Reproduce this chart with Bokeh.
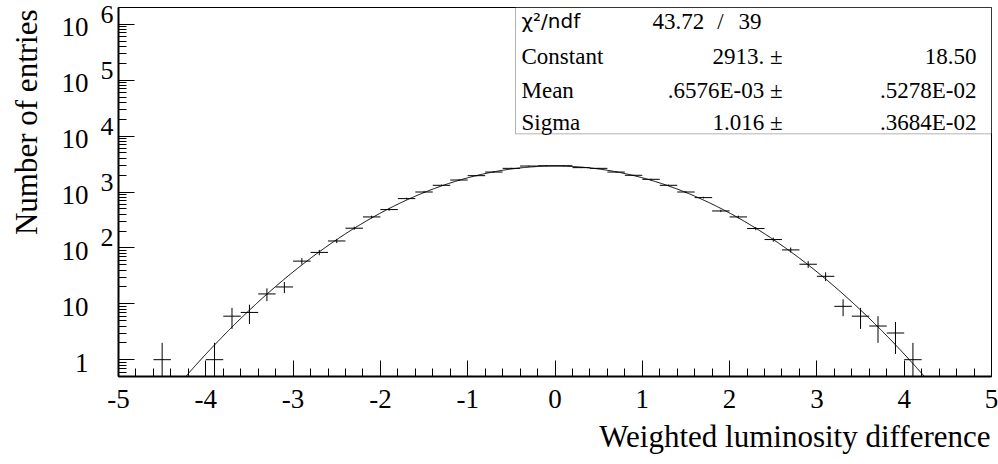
import math
import numpy as np
from bokeh.plotting import figure
from bokeh.models import (Range1d, FixedTicker, Label, ColumnDataSource, LogAxis,
                          BoxAnnotation, CustomJSTickFormatter, Title)
from bokeh.embed import file_html
from bokeh.resources import INLINE

# ---------------- data ----------------
BIN_WIDTH = 0.2
bin_centers = [-4.5, -3.9, -3.7, -3.5, -3.3, -3.1, -2.9, -2.7, -2.5, -2.3, -2.1,
               -1.9, -1.7, -1.5, -1.3, -1.1, -0.9, -0.7, -0.5, -0.3, -0.1,
               0.1, 0.3, 0.5, 0.7, 0.9, 1.1, 1.3, 1.5, 1.7, 1.9,
               2.1, 2.3, 2.5, 2.7, 2.9, 3.1, 3.3, 3.5, 3.7, 3.9, 4.1]
counts = [1, 1, 6, 7, 15, 20, 58, 83, 133, 225, 358,
          485, 762, 1000, 1318, 1638, 1960, 2275, 2650, 2912, 2950,
          2950, 2728, 2650, 2275, 1990, 1686, 1318, 1000, 794, 458,
          358, 222, 141, 92, 51, 31, 9, 6, 4, 3, 1]

fit_chi2 = 43.72
fit_ndf = 39
fit_constant, fit_constant_err = 2913.0, 18.50
fit_mean, fit_mean_err = 0.6576e-03, 0.5278e-02
fit_sigma, fit_sigma_err = 1.016, 0.3684e-02

stat_names = ["Constant", "Mean", "Sigma"]
stat_values = ["2913. \u00b1", ".6576E-03 \u00b1", "1.016 \u00b1"]
stat_errors = ["18.50", ".5278E-02", ".3684E-02"]

x_ticks = [-5, -4, -3, -2, -1, 0, 1, 2, 3, 4, 5]
x_tick_labels = ["-5", "-4", "-3", "-2", "-1", "0", "1", "2", "3", "4", "5"]
y_tick_values = [1, 10, 100, 1e3, 1e4, 1e5, 1e6]
y_tick_base = ["1", "10", "10", "10", "10", "10", "10"]
y_tick_exp = ["", "", "2", "3", "4", "5", "6"]

x_title = "Weighted luminosity difference"
y_title = "Number of entries"

# ---------------- geometry ----------------
W, H = 998, 464
FL, FR, FT, FB = 118, 991, 7, 378      # frame edges in picture pixels
XMIN, XMAX = -5.0, 5.0
YMIN, YMAX = 0.5, 2e6
DEC = (FB - FT) / math.log10(YMAX / YMIN)   # pixels per decade


def px2x(px):
    return XMIN + (px - FL) * (XMAX - XMIN) / (FR - FL)


def py2y(py):
    return 10 ** (math.log10(YMIN) + (FB - py) / DEC)


SERIF = "Liberation Serif"

p = figure(width=W, height=H, output_backend="svg", toolbar_location=None,
           x_range=Range1d(XMIN, XMAX), y_range=Range1d(YMIN, YMAX),
           y_axis_type="log", title=None,
           min_border_left=FL, min_border_right=W - FR,
           min_border_top=FT, min_border_bottom=H - FB)
p.grid.visible = False
p.background_fill_color = "white"
p.border_fill_color = "white"
p.outline_line_color = "black"
p.outline_line_width = 1

# x axis
p.xaxis.ticker = FixedTicker(ticks=x_ticks,
                             minor_ticks=[round(-5 + 0.2 * i, 1) for i in range(51)])
p.xaxis.formatter = CustomJSTickFormatter(args=dict(labels=x_tick_labels),
                                          code="return labels[index]")
p.xaxis.axis_line_width = 2
p.xaxis.major_tick_in = 16
p.xaxis.major_tick_out = 0
p.xaxis.minor_tick_in = 8
p.xaxis.minor_tick_out = 0
p.xaxis.major_label_text_font = SERIF
p.xaxis.major_label_text_font_size = "27px"
p.xaxis.major_label_text_color = "black"
p.xaxis.major_label_standoff = 13

# y axis (tick marks only)
minor_y = []
for e in range(-1, 7):
    for m in range(2, 10):
        v = m * 10.0 ** e
        if YMIN <= v <= YMAX:
            minor_y.append(v)
p.yaxis.ticker = FixedTicker(ticks=y_tick_values, minor_ticks=minor_y)
p.yaxis.formatter = CustomJSTickFormatter(code="return ''")
p.yaxis.axis_line_width = 2
p.yaxis.major_tick_in = 16
p.yaxis.major_tick_out = 0
p.yaxis.minor_tick_in = 8
p.yaxis.minor_tick_out = 0
p.yaxis.major_label_standoff = 0


def label_axis(positions, labels, size, standoff):
    ax = LogAxis(ticker=FixedTicker(ticks=positions, minor_ticks=[]),
                 formatter=CustomJSTickFormatter(args=dict(labels=labels),
                                                 code="return labels[index]"),
                 axis_line_color=None, major_tick_line_color=None,
                 minor_tick_line_color=None, major_tick_in=0, major_tick_out=0,
                 minor_tick_in=0, minor_tick_out=0,
                 major_label_standoff=standoff,
                 major_label_text_font=SERIF, major_label_text_font_size=size,
                 major_label_text_color="black")
    p.add_layout(ax, "left")
    return ax


# exponents (raised), then the bases
label_axis([v * 10 ** (10 / DEC) for v in y_tick_values], y_tick_exp, "26px", 5)
base_axis = label_axis([v * 10 ** (-3 / DEC) for v in y_tick_values], y_tick_base, "27px", 9)
# blank spacer label to push the title outwards
base_axis.axis_label = " "
base_axis.axis_label_standoff = 5
base_axis.axis_label_text_font_size = "2px"

# axis titles
p.add_layout(Title(text=y_title, align="right", offset=2, standoff=10,
                   text_font=SERIF, text_font_size="31px", text_font_style="normal",
                   text_color="black"), "left")
p.add_layout(Title(text=x_title, align="right", offset=1, standoff=17,
                   vertical_align="top",
                   text_font=SERIF, text_font_size="31px", text_font_style="normal",
                   text_color="black"), "below")

# histogram points with errors
c = np.array(counts, dtype=float)
xc = np.array(bin_centers, dtype=float)
src = ColumnDataSource(dict(
    x=xc, y=c, xl=xc - BIN_WIDTH / 2, xh=xc + BIN_WIDTH / 2,
    yl=np.maximum(c - np.sqrt(c), 1e-3), yh=c + np.sqrt(c)))
p.segment(x0="xl", y0="y", x1="xh", y1="y", source=src, line_color="black", line_width=1)
p.segment(x0="x", y0="yl", x1="x", y1="yh", source=src, line_color="black", line_width=1)

# gaussian fit curve
fx = np.linspace(XMIN, XMAX, 1001)
fy = fit_constant * np.exp(-0.5 * ((fx - fit_mean) / fit_sigma) ** 2)
p.line(fx, fy, line_color="black", line_width=1)

# stats box
p.add_layout(BoxAnnotation(left=px2x(515), right=XMAX, bottom=py2y(134), top=YMAX,
                           fill_color="white", fill_alpha=1.0, line_color="black",
                           line_width=1, level="overlay"))


def stat_label(px, py, text, align="left", font=SERIF, size="23px"):
    p.add_layout(Label(x=px2x(px), y=py2y(py), text=text, text_align=align,
                       text_baseline="middle", text_font=font, text_font_size=size,
                       text_color="black", level="overlay"))


stat_label(521, 21, "\u03c7\u00b2/ndf", font="DejaVu Sans", size="20px")
stat_label(652, 21, "%.2f" % fit_chi2)
stat_label(720, 21, "/", align="center")
stat_label(738, 21, "%d" % fit_ndf)
rows_y = [56, 90, 123]
for name, val, err, ry in zip(stat_names, stat_values, stat_errors, rows_y):
    stat_label(521, ry, name)
    stat_label(782, ry, val, align="right")
    stat_label(976, ry, err, align="right")

open("out.html", "w").write(file_html(p, INLINE))
